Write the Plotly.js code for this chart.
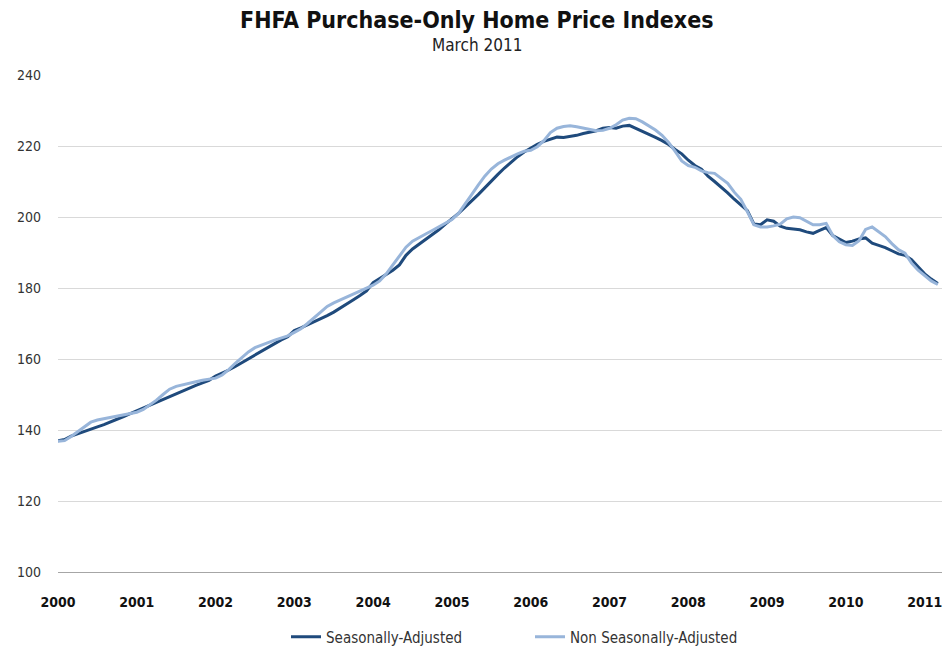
<!DOCTYPE html>
<html>
<head>
<meta charset="utf-8">
<script src="https://cdn.plot.ly/plotly-3.0.1.min.js"></script>
<style>html,body{margin:0;padding:0;background:#fff;}#chart{width:951px;height:651px;}</style>
</head>
<body>
<div id="chart"></div>
<script>
// Monthly, Jan 2000 .. Mar 2011
const startYear = 2000;
const seasonallyAdjusted = [
  137.0, 137.3, 138.3, 139.0, 139.6, 140.3, 140.9, 141.5, 142.2, 143.0, 143.8, 144.6,
  145.4, 146.2, 147.0, 147.9, 148.8, 149.6, 150.4, 151.1, 151.9, 152.6, 153.3, 154.0,
  155.2, 156.0, 156.9, 157.9, 159.0, 160.1, 161.2, 162.2, 163.3, 164.4, 165.4, 166.3,
  168.0, 168.8, 169.6, 170.5, 171.3, 172.2, 173.2, 174.3, 175.5, 176.7, 177.9, 179.2,
  181.5, 182.6, 183.7, 185.0, 186.5, 189.2, 191.0, 192.3, 193.6, 195.0, 196.4, 198.0,
  199.5, 201.0, 202.8, 204.5, 206.3, 208.2, 210.2, 212.0, 213.8, 215.5, 217.0, 218.3,
  219.4, 220.5, 221.3, 222.0, 222.5, 222.4, 222.6, 223.0, 223.5, 223.8, 224.3, 225.0,
  225.2, 225.0, 225.6, 225.8, 225.0, 224.0, 223.2, 222.4, 221.5, 220.4, 219.0, 217.8,
  216.0, 214.5, 213.5, 211.5, 210.0, 208.5, 206.8, 205.0, 203.5, 201.8, 198.0, 197.8,
  199.2, 198.8, 197.4, 196.8, 196.6, 196.4, 195.8, 195.4, 196.2, 197.0, 194.8, 193.8,
  192.8, 193.2, 193.8, 194.1, 192.6, 192.0, 191.4, 190.5, 189.6, 189.2, 188.0, 186.0,
  184.0, 182.5, 181.3
];
const nonSeasonallyAdjusted = [
  136.8, 137.0, 138.2, 139.6, 141.0, 142.2, 142.8, 143.2, 143.5, 143.8, 144.2, 144.6,
  145.0, 145.8, 147.0, 148.4, 150.0, 151.5, 152.3, 152.8, 153.2, 153.6, 154.0, 154.3,
  154.6, 155.5, 157.0, 158.8, 160.5, 162.0, 163.2, 164.0, 164.6, 165.3, 166.0, 166.5,
  167.5, 168.5, 170.0, 171.6, 173.3, 174.8, 175.8, 176.6, 177.4, 178.3, 179.2, 179.8,
  180.8, 182.0, 184.0, 186.5, 189.0, 191.5, 193.2, 194.3, 195.2, 196.2, 197.3, 198.3,
  199.3, 201.0, 203.5, 206.3, 209.0, 211.5, 213.5, 215.0, 216.0, 217.0, 217.8, 218.5,
  218.8, 219.8, 221.5, 223.8, 225.0, 225.5, 225.7, 225.4, 225.0, 224.5, 224.3, 224.4,
  225.0, 226.0, 227.3, 227.8, 227.7, 226.8, 225.7, 224.5, 223.0, 221.0, 218.5, 215.8,
  214.5, 214.0, 213.0, 212.5, 212.3, 211.0, 209.5, 207.0, 205.0, 201.5, 197.8, 197.2,
  197.2, 197.5, 198.0, 199.5, 200.0, 199.8, 198.8, 197.8, 197.8, 198.2, 194.8, 193.0,
  192.2, 192.0, 193.3, 196.5, 197.2, 195.8, 194.5, 192.5, 190.8, 189.8, 187.0, 185.0,
  183.5, 182.0, 181.0
];
const yearTicks = [2000, 2001, 2002, 2003, 2004, 2005, 2006, 2007, 2008, 2009, 2010, 2011];
const yTicks = [100, 120, 140, 160, 180, 200, 220, 240];
const seriesNames = ["Seasonally-Adjusted", "Non Seasonally-Adjusted"];
const titleText = "FHFA Purchase-Only Home Price Indexes";
const subtitleText = "March 2011";

const months = seasonallyAdjusted.map((_, i) => startYear + i / 12);
const FONT = "DejaVu Sans Condensed, DejaVu Sans, sans-serif";

const traces = [
  {x: months, y: seasonallyAdjusted, type: "scatter", mode: "lines", name: seriesNames[0],
   line: {color: "#1f4a7c", width: 3}},
  {x: months, y: nonSeasonallyAdjusted, type: "scatter", mode: "lines", name: seriesNames[1],
   line: {color: "#98b5da", width: 3}}
];

const layout = {
  width: 951, height: 651,
  margin: {l: 58, r: 9, t: 75, b: 79},
  paper_bgcolor: "#fff", plot_bgcolor: "#fff",
  font: {family: FONT, color: "#222", size: 13},
  showlegend: true,
  legend: {orientation: "h", xref: "container", yref: "container",
           x: 286 / 951, xanchor: "left", y: 1 - 637 / 651, yanchor: "middle",
           font: {family: FONT, size: 15, color: "#333"}, entrywidth: 199, itemwidth: 30},
  xaxis: {
    type: "linear", range: [2000, 2011.22],
    tickvals: yearTicks, ticktext: yearTicks.map(v => "<b>" + v + "</b>"),
    showgrid: false, zeroline: false, showline: true, linecolor: "#a6a6a6", linewidth: 1,
    ticks: "", ticklabelstandoff: 17,
    tickfont: {family: FONT, size: 14, color: "#111"}
  },
  yaxis: {
    range: [100, 240], tickvals: yTicks, showgrid: true, gridcolor: "#d9d9d9", gridwidth: 1,
    zeroline: false, showline: false, ticks: "", ticklabelstandoff: 16,
    tickfont: {family: FONT, size: 14, color: "#333"}
  },
  annotations: [
    {text: "<b>" + titleText + "</b>", xref: "paper", yref: "paper", x: 0.474, y: 1, yshift: 55,
     showarrow: false, xanchor: "center", yanchor: "middle", font: {family: FONT, size: 23, color: "#111"}},
    {text: subtitleText, xref: "paper", yref: "paper", x: 0.474, y: 1, yshift: 30,
     showarrow: false, xanchor: "center", yanchor: "middle", font: {family: FONT, size: 17, color: "#222"}}
  ]
};

Plotly.newPlot("chart", traces, layout, {displayModeBar: false, staticPlot: true});
</script>
</body>
</html>
